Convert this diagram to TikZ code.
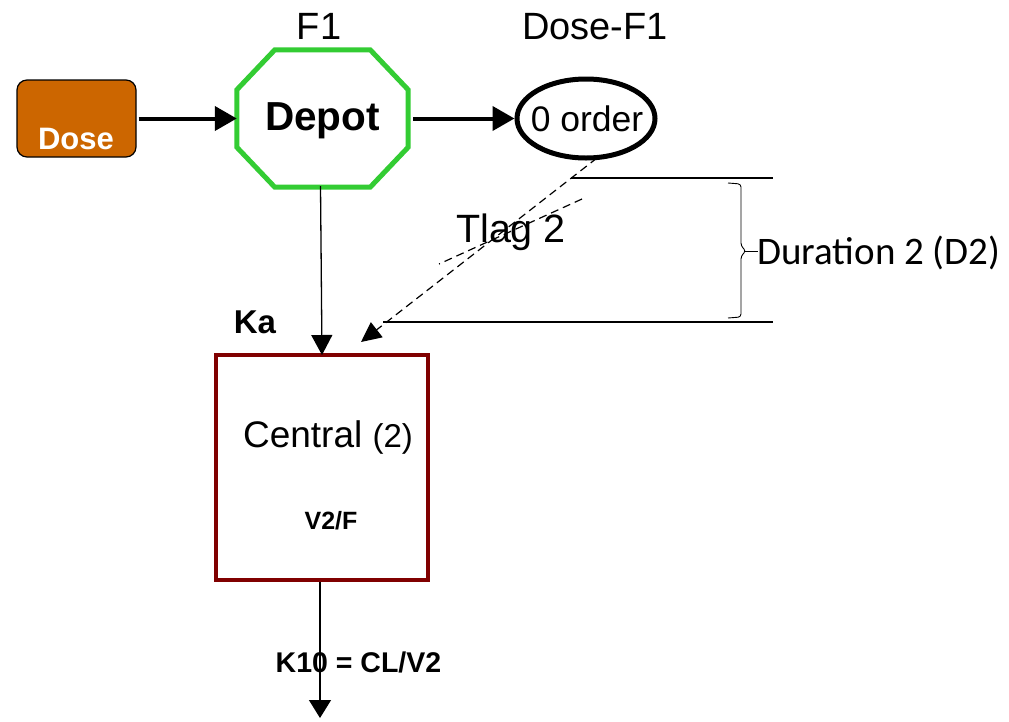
\documentclass[tikz,border=0pt]{standalone}
\usepackage{fontspec}
\setmainfont{Liberation Sans}
\newfontfamily\calib{Carlito}
\usetikzlibrary{arrows.meta,shapes.geometric}
\definecolor{doseorange}{HTML}{CC6600}
\definecolor{octgreen}{HTML}{33CC33}
\definecolor{boxred}{HTML}{800000}
\begin{document}
\begin{tikzpicture}[x=1pt,y=-1pt,
  thickarrow/.style={line width=4pt,-{Triangle[length=22pt,width=24pt]}},
  thinarrow/.style={line width=1.3pt,-{Triangle[length=20pt,width=21pt]}},
  dasharrow/.style={line width=1.2pt,dash pattern=on 8pt off 5pt},
  hline/.style={line width=2.5pt},
  lbl/.style={inner sep=0pt,anchor=center}]
\useasboundingbox (0,0) rectangle (1009,721);
% Dose
\node[draw=black,line width=1.2pt,fill=doseorange,rounded corners=10pt,minimum width=119pt,minimum height=77pt] (dose) at (76.5,118.5) {};
\node[lbl,text=white,font=\bfseries\fontsize{31}{34}\selectfont] (dosetxt) at (76,139) {Dose};
% Depot octagon
\node[minimum width=171pt,minimum height=137pt,inner sep=0pt] (depot) at (322.5,118.5) {};
\draw[octgreen,line width=5pt,line join=miter]
  ([xshift=38pt]depot.north west) -- ([xshift=-38pt]depot.north east)
  -- ([yshift=-40pt]depot.north east) -- ([yshift=40pt]depot.south east)
  -- ([xshift=-38pt]depot.south east) -- ([xshift=38pt]depot.south west)
  -- ([yshift=40pt]depot.south west) -- ([yshift=-40pt]depot.north west) -- cycle;
\node[lbl,font=\bfseries\fontsize{40.5}{44}\selectfont] (depottxt) at (322.5,121) {Depot};
\node[lbl,font=\fontsize{38}{41}\selectfont] (f1) at (319,26) {F1};
% zero order ellipse
\node[ellipse,draw=black,line width=5pt,minimum width=138pt,minimum height=79pt,inner sep=0pt] (order) at (586,118.5) {};
\node[lbl,font=\fontsize{35.5}{38}\selectfont] (ordertxt) at (587,119) {0 order};
\node[lbl,font=\fontsize{38}{41}\selectfont] (dosef1) at (595,27) {Dose-F1};
% arrows top
\draw[thickarrow] (dose.east) ++(2pt,0) coordinate (d1) (d1) -- (depot.west);
\draw[thickarrow] ([xshift=5pt]depot.east) -- (order.west);
% Central
\node[draw=boxred,line width=4pt,minimum width=212pt,minimum height=225pt,inner sep=0pt] (central) at (322,467.5) {};
\node[lbl,font=\fontsize{37}{40}\selectfont] (centraltxt) at (328,438) {Central {\fontsize{33}{36}\selectfont(2)}};
\node[lbl,font=\bfseries\fontsize{25}{27}\selectfont] (v2f) at (331,521) {V2/F};
\node[lbl,font=\bfseries\fontsize{33}{36}\selectfont] (ka) at (255,322) {Ka};
\draw[thinarrow] ([xshift=-2pt,yshift=1pt]depot.south) -- ([yshift=-2pt]central.north);
% duration lines
\coordinate (t1) at (571,178);
\coordinate (t2) at (773,178);
\coordinate (b1) at (383,322);
\coordinate (b2) at (773,322);
\draw[hline] (t1) -- (t2);
\draw[hline] (b1) -- (b2);
% brace
\draw[line width=0.9pt,rounded corners=3pt] (728,183) -- (741,184) -- (741,246) -- (746,251) -- (741,256) -- (741,317) -- (728,318);
\draw[line width=0.9pt] (744,251) -- (758,251);
\node[lbl,anchor=west,font=\calib\fontsize{39}{42}\selectfont] (dur) at (757,253) {Duration 2 (D2)};
% Tlag
\node[lbl,font=\fontsize{39.5}{42}\selectfont] (tlag) at (511,232) {Tlag 2};
\coordinate (da) at (597,158);
\coordinate (dtip) at (361,342);
\coordinate (db1) at (582,199);
\coordinate (db2) at (439,264);
\draw[dasharrow,-{Triangle[length=20pt,width=19pt]}] (da) -- (dtip);
\draw[dasharrow] (db1) -- (db2);
% elimination
\coordinate (out) at (320,718);
\draw[thinarrow,-{Triangle[length=18pt,width=22pt]}] ([xshift=-2pt]central.south) -- (out);
\node[lbl,font=\bfseries\fontsize{28.5}{31}\selectfont] (k10) at (358.5,662) {K10 = CL/V2};
\end{tikzpicture}
\end{document}
